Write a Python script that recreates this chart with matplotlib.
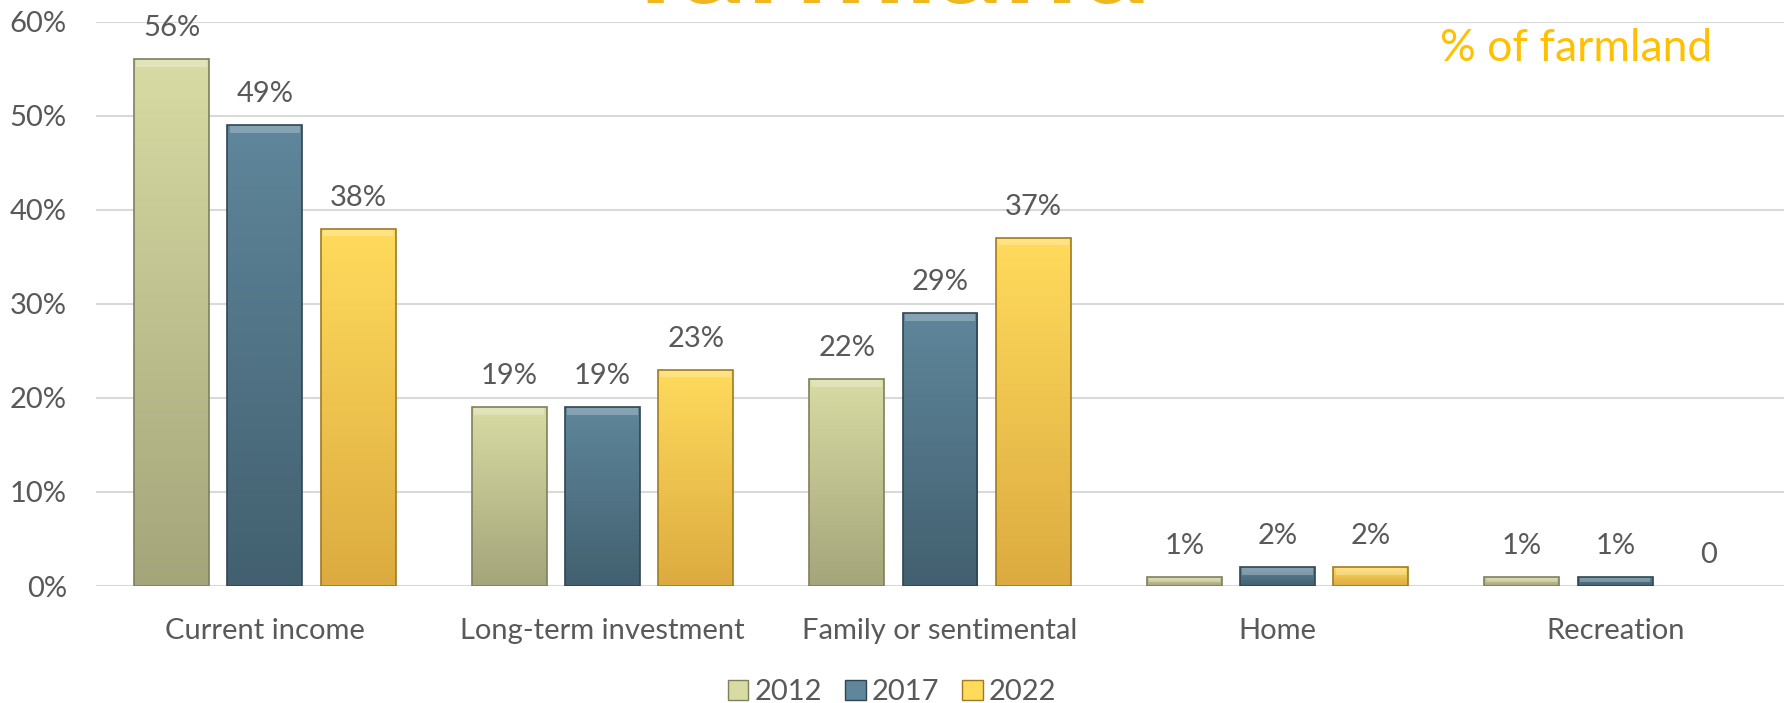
import numpy             as np
import matplotlib
matplotlib.use('Agg')
import matplotlib.pyplot as plt

from matplotlib.colors  import LinearSegmentedColormap
from matplotlib.patches import Patch

# reasons for owning farmland, share by survey year
categories = ['Current income', 'Long-term investment', 'Family or sentimental', 'Home', 'Recreation']
years      = ['2012', '2017', '2022']
share_2012 = [56, 19, 22, 1, 1]
share_2017 = [49, 19, 29, 2, 1]
share_2022 = [38, 23, 37, 2, 0]
y_ticks    = [0, 10, 20, 30, 40, 50, 60]

series = [share_2012, share_2017, share_2022]

# (top colour, bottom colour, edge colour) for each year
shades = [('#d8dba3', '#a4a57a', '#7f7f5c'),
          ('#5f869b', '#42606f', '#2f4553'),
          ('#ffdb5c', '#dcab40', '#a07a22')]

grey  = '#595959'
gold  = '#ffc000'
font  = 'Lato'
size  = 21

plt.rcParams['font.family'] = [font, 'DejaVu Sans']

fig = plt.figure(figsize = (17.84, 7.03), dpi = 100)
ax  = fig.add_axes([0.0538, 0.1664, 0.9462, 0.8029])

x       = np.arange(len(categories))
offset  = 0.2764
width   = 0.222
bevel   = 0.8

for i, values in enumerate(series):
    top_c, bot_c, edge_c = shades[i]
    cmap = LinearSegmentedColormap.from_list('bar' + years[i], [bot_c, top_c])
    pos  = x + (i - 1) * offset
    bars = ax.bar(pos, values, width, color = 'none', edgecolor = edge_c, linewidth = 1.2, zorder = 3)
    grad = np.linspace(0, 1, 256).reshape(-1, 1)
    for bar in bars:
        h = bar.get_height()
        if h == 0:
            bar.set_linewidth(0)
            continue
        x0 = bar.get_x()
        im = ax.imshow(grad, extent = [x0, x0 + width, 0, h], origin = 'lower',
                       cmap = cmap, aspect = 'auto', zorder = 2)
        im.set_clip_path(bar)
        # lighter bevel along the top edge
        b = min(bevel, h * 0.6)
        ax.bar(x0 + width / 2, b, width * 0.94, bottom = h - b, color = 'white',
               alpha = 0.25, linewidth = 0, zorder = 2.5)
    for p, v in zip(pos, values):
        label = str(v) + '%' if v else '0'
        ax.annotate(label, (p, v), xytext = (0, 31), textcoords = 'offset pixels',
                    ha = 'center', va = 'center', fontsize = size, color = grey)

ax.set_xlim(-0.5, len(categories) - 0.5)
ax.set_ylim(0, 60)
ax.set_yticks(y_ticks)
ax.set_yticklabels([str(t) + '%' for t in y_ticks])
ax.set_xticks(x)
ax.set_xticklabels(categories)
ax.grid(axis = 'y', color = '#d9d9d9', linewidth = 1.5, zorder = 0)
ax.set_axisbelow(True)
for side in ['top', 'right', 'left', 'bottom']:
    ax.spines[side].set_visible(False)
ax.tick_params(axis = 'y', length = 0, pad = 21, labelsize = size, labelcolor = grey)
ax.tick_params(axis = 'x', length = 0, pad = 23, labelsize = size, labelcolor = grey)
ax.axhline(0, color = '#d9d9d9', linewidth = 2, zorder = 1)

fig.text(0.5006, 1 - 3 / 703, 'farmland', ha = 'center', va = 'baseline',
         fontsize = 94, fontweight = 'bold', color = '#f0b81e')
fig.text(0.8834, 1 - 61 / 703, '% of farmland', ha = 'center', va = 'baseline',
         fontsize = 32, color = gold)

handles = [Patch(facecolor = s[0], edgecolor = s[2]) for s in shades]
fig.legend(handles, years, loc = 'center', bbox_to_anchor = (0.5, 0.015), ncol = 3,
           frameon = False, fontsize = size, labelcolor = grey, handlelength = 0.7,
           handleheight = 0.7, handletextpad = 0.2, columnspacing = 0.8)

fig.savefig('out.png', dpi = 100)
